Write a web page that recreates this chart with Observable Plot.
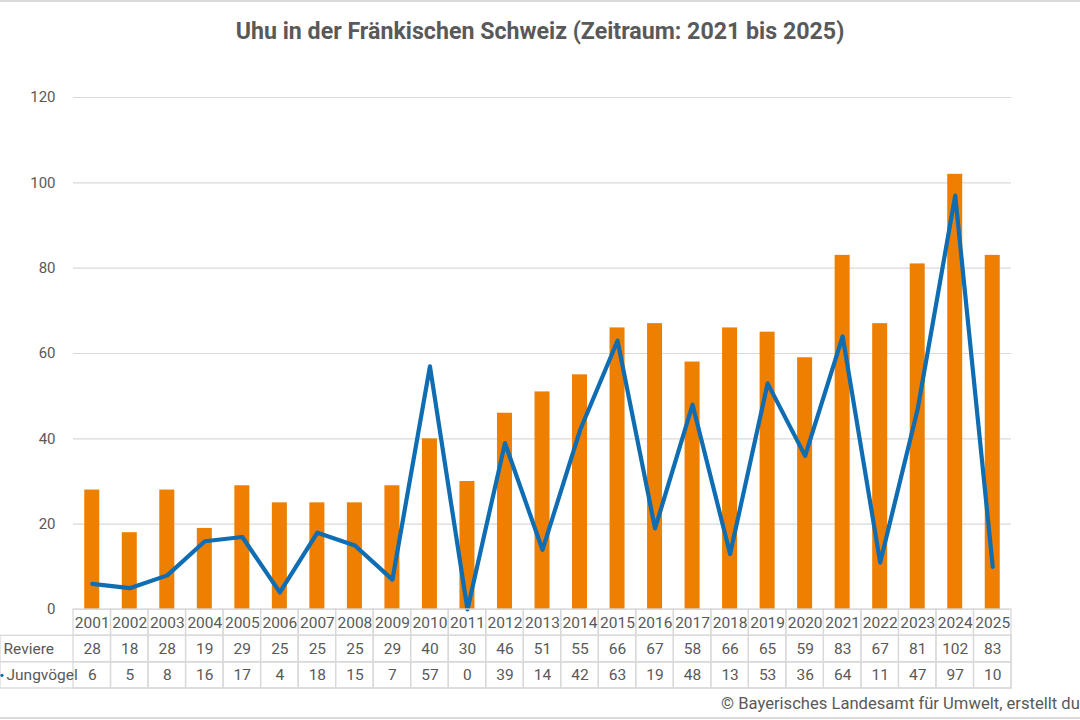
<!DOCTYPE html>
<html><head><meta charset="utf-8">
<script src="https://cdn.jsdelivr.net/npm/d3@7"></script>
<script src="https://cdn.jsdelivr.net/npm/@observablehq/plot@0.6"></script>
<style>
html,body{margin:0;padding:0;background:#fff;width:1080px;height:720px;overflow:hidden;font-family:Roboto,"Noto Sans",sans-serif;}
#wrap{position:relative;width:1080px;height:720px;overflow:hidden;}
#title{position:absolute;top:17px;left:0;width:1080px;text-align:center;font-weight:bold;font-size:23.2px;color:#595959;}
#chart{position:absolute;left:0;top:0;}
#table{position:absolute;left:0;top:608px;}
#caption{position:absolute;left:721px;top:694px;font-size:16.6px;color:#595959;white-space:nowrap;}
#bt{position:absolute;left:0;top:0;width:1080px;height:2px;background:#d9d9d9;}
#bb{position:absolute;left:0;top:717px;width:1080px;height:2px;background:#d9d9d9;}
</style>
</head><body>
<div id="wrap">
<div id="bt"></div>
<div id="title">Uhu in der Fränkischen Schweiz (Zeitraum: 2021 bis 2025)</div>
<div id="chart"></div>
<div id="table"></div>
<div id="caption">© Bayerisches Landesamt für Umwelt, erstellt du</div>
<div id="bb"></div>
</div>
<script>
const years = ["2001","2002","2003","2004","2005","2006","2007","2008","2009","2010","2011","2012","2013","2014","2015","2016","2017","2018","2019","2020","2021","2022","2023","2024","2025"];
const reviere = [28,18,28,19,29,25,25,25,29,40,30,46,51,55,66,67,58,66,65,59,83,67,81,102,83];
const jungvoegel = [6,5,8,16,17,4,18,15,7,57,0,39,14,42,63,19,48,13,53,36,64,11,47,97,10];
const yTicks = [0,20,40,60,80,100,120];
const rowNames = ["Jahr","Reviere","Jungvögel"];

const orange = "#ef7f00";
const blue = "#0f6db3";
const grey = "#595959";
const gridc = "#d9d9d9";

const data = years.map((y,i)=>({year:y, reviere:reviere[i], jung:jungvoegel[i]}));

const chart = Plot.plot({
  width:1080, height:622,
  marginTop:97, marginBottom:13, marginLeft:73, marginRight:69,
  style:{fontFamily:"Roboto, sans-serif", background:"transparent"},
  x:{type:"band", domain:years, paddingInner:0.6, paddingOuter:0.3, round:false, axis:null},
  y:{domain:[0,120], axis:null},
  marks:[
    Plot.gridY(yTicks, {stroke:gridc, strokeOpacity:1, strokeWidth:1.2}),
    Plot.axisY(yTicks, {tickSize:0, tickPadding:18, fontSize:15, fill:grey, label:null}),
    Plot.barY(data, {x:"year", y:"reviere", fill:orange}),
    Plot.line(data, {x:"year", y:"jung", stroke:blue, strokeWidth:4.2, strokeLinejoin:"round", strokeLinecap:"round"})
  ]
});
document.getElementById("chart").appendChild(chart);

const cells = [];
data.forEach(d=>{
  cells.push({year:d.year, row:"Jahr", text:d.year});
  cells.push({year:d.year, row:"Reviere", text:String(d.reviere)});
  cells.push({year:d.year, row:"Jungvögel", text:String(d.jung)});
});
const labelRows = rowNames.slice(1).map(r=>({row:r}));

const table = Plot.plot({
  width:1080, height:81,
  marginTop:1, marginBottom:1, marginLeft:0, marginRight:69,
  style:{fontFamily:"Roboto, sans-serif", background:"transparent"},
  x:{type:"band", domain:years, range:[73,1011], padding:0, round:false, axis:null},
  y:{type:"band", domain:rowNames, padding:0, round:false, axis:null},
  marks:[
    Plot.cell(labelRows, {y:"row", fill:"none", stroke:gridc, strokeWidth:1.3, inset:0}),
    Plot.cell(cells, {x:"year", y:"row", fill:"none", stroke:gridc, strokeWidth:1.3, inset:0}),
    Plot.text(cells, {x:"year", y:"row", text:"text", fontSize:15.5, fill:grey}),
    Plot.text(labelRows.filter(d=>d.row==="Reviere"), {y:"row", text:"row", frameAnchor:"left", textAnchor:"start", dx:3, fontSize:15.5, fill:grey}),
    Plot.text(labelRows.filter(d=>d.row==="Jungvögel"), {y:"row", text:"row", frameAnchor:"left", textAnchor:"start", dx:6, fontSize:15.5, fill:grey}),
    Plot.dot(labelRows.filter(d=>d.row==="Jungvögel"), {y:"row", frameAnchor:"left", dx:1.5, r:1.6, fill:blue, stroke:"none"})
  ]
});
document.getElementById("table").appendChild(table);
</script>
</body></html>
